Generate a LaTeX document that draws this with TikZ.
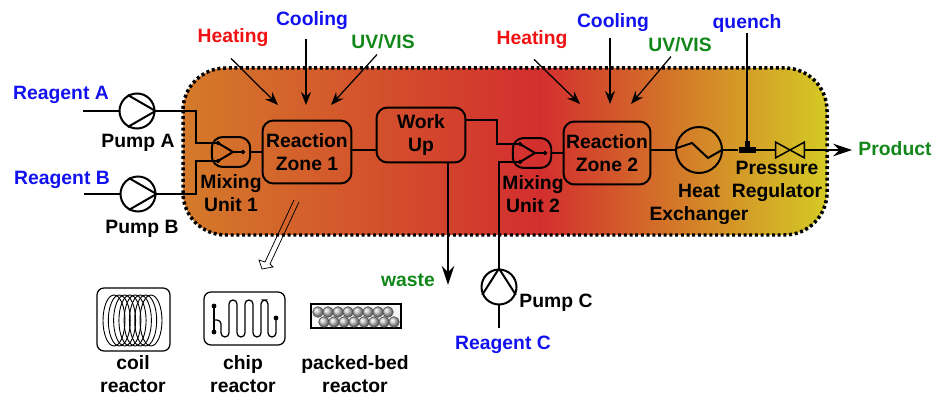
\documentclass[tikz,border=0pt]{standalone}
\usepackage{fontspec}
\setmainfont{Liberation Sans}
\usetikzlibrary{arrows.meta}
\definecolor{fillorange}{RGB}{212,122,42}
\definecolor{fillred}{RGB}{211,46,46}
\definecolor{fillyellow}{RGB}{212,202,36}
\definecolor{labelblue}{RGB}{18,18,240}
\definecolor{labelgreen}{RGB}{18,135,25}
\definecolor{labelred}{RGB}{240,18,18}
\pgfdeclarehorizontalshading{reactorfill}{100bp}{color(0bp)=(fillorange); color(25bp)=(fillorange); color(52.7bp)=(fillred); color(75bp)=(fillyellow); color(100bp)=(fillyellow)}
\def\sphere(#1,#2){\draw[shade, ball color=black!22, draw=black!70, line width=0.012cm] (#1,#2) circle (5.3);}
\tikzset{
	txt/.style={font=\bfseries\fontsize{11}{13}\selectfont, align=center, inner sep=0pt},
	flowline/.style={line width=0.04cm},
	thinarrow/.style={line width=0.025cm, -{Stealth[length=0.26cm,width=0.2cm]}},
	bigarrow/.style={line width=0.04cm, -{Stealth[length=0.38cm,width=0.25cm]}},
	pumpnode/.style={draw, circle, line width=0.04cm, minimum size=0.7cm, inner sep=0pt},
	mixnode/.style={draw, rectangle, rounded corners=0.22cm, line width=0.04cm, minimum width=0.77cm, minimum height=0.6cm, inner sep=0pt},
	zonenode/.style={txt, draw, rectangle, rounded corners=0.22cm, line width=0.04cm, minimum width=1.78cm, minimum height=1.26cm},
	coilring/.style={line width=0.018cm}
}
\begin{document}
\begin{tikzpicture}[x=0.02cm, y=-0.02cm]
	%%%%% START %%%%%
	\useasboundingbox (0, 0) rectangle (934, 395);

	%%%%% heated box
	\draw[shade, shading=reactorfill, rounded corners=0.85cm, line width=0.07cm, dash pattern=on 0.06cm off 0.054cm] (183, 68) rectangle (827, 235);

	%%%%% pumps and inlets
	\node[pumpnode] (pumpA) at (137, 111) {};
	\node[pumpnode] (pumpB) at (138, 194) {};
	\node[pumpnode] (pumpC) at (499, 287) {};
	\coordinate (inletA) at (83, 111);
	\coordinate (inletB) at (84, 194);
	\coordinate (inletC) at (499, 328);
	\draw[flowline] (inletA) -- (pumpA);
	\draw[flowline] (inletB) -- (pumpB);
	\draw[flowline] (inletC) -- (pumpC);
	\draw[flowline] (pumpA.120) -- (pumpA.east) -- (pumpA.-120);
	\draw[flowline] (pumpB.120) -- (pumpB.east) -- (pumpB.-120);
	\draw[flowline] (pumpC.-155) -- (pumpC.north) -- (pumpC.-25);

	%%%%% mixers
	\node[mixnode] (mixA) at (231, 152) {};
	\node[mixnode] (mixB) at (532, 153) {};
	\coordinate (mixAtop) at (218, 143);
	\coordinate (mixAlow) at (218, 161);
	\coordinate (mixAjoin) at (233, 152);
	\coordinate (mixAend) at (243, 152);
	\coordinate (mixBtop) at (520, 144);
	\coordinate (mixBlow) at (520, 162);
	\coordinate (mixBjoin) at (535, 153);
	\coordinate (mixBend) at (545, 153);
	\draw[flowline] (mixAtop) -- (mixAjoin) -- (mixAlow);
	\draw[flowline] (mixAjoin) -- (mixAend);
	\draw[fill=black] (mixAtop) circle (1.8);
	\draw[fill=black] (mixAlow) circle (1.8);
	\draw[fill=black] (mixAend) circle (1.8);
	\draw[flowline] (mixBtop) -- (mixBjoin) -- (mixBlow);
	\draw[flowline] (mixBjoin) -- (mixBend);
	\draw[fill=black] (mixBtop) circle (1.8);
	\draw[fill=black] (mixBlow) circle (1.8);
	\draw[fill=black] (mixBend) circle (1.8);

	%%%%% zones
	\node[zonenode] (zoneA) at (307, 152) {Reaction\\Zone 1};
	\node[zonenode, minimum height=1.1cm] (workUp) at (421, 135) {Work\\Up};
	\node[zonenode, minimum width=1.74cm] (zoneB) at (607, 153) {Reaction\\Zone 2};
	\node[pumpnode, minimum size=0.92cm] (heatX) at (699, 150) {};
	\node[rectangle, fill=black, minimum width=0.34cm, minimum height=0.12cm, inner sep=0pt] (teeJoint) at (747, 150) {};
	\node[rectangle, minimum width=0.56cm, minimum height=0.3cm, inner sep=0pt] (valve) at (790, 150) {};
	\draw[line width=0.03cm] (valve.north west) -- (valve.south east) -- (valve.north east) -- (valve.south west) -- cycle;
	\draw[flowline] (677, 148) -- (692, 143) -- (708, 158) -- (722, 150);

	%%%%% lines between units
	\draw[flowline] (pumpA.east) -- ++(41, 0) |- (mixAtop);
	\draw[flowline] (pumpB.east) -- ++(40, 0) |- (mixAlow);
	\draw[flowline] (mixA.east) -- (zoneA.west);
	\draw[flowline] (zoneA.east |- 0, 150) -- (workUp.west |- 0, 150);
	\draw[flowline] (workUp.east |- 0, 120) -- ++(31, 0) |- (mixBtop);
	\draw[flowline] (pumpC.north) |- (mixBlow);
	\draw[flowline] (mixB.east) -- (zoneB.west);
	\draw[flowline] (zoneB.east |- heatX.west) -- (heatX.west);
	\draw[flowline] (heatX.east) -- (teeJoint.west);
	\draw[flowline] (teeJoint.east) -- (valve.west);
	\coordinate (wasteEnd) at (448, 285);
	\draw[bigarrow] (448, 163) -- (wasteEnd);

	%%%%% labels
	\node[txt, text=labelblue] (reagentA) at (61, 95) {Reagent A};
	\node[txt, text=labelblue] (reagentB) at (62, 180) {Reagent B};
	\node[txt, text=labelblue] (reagentC) at (503, 345) {Reagent C};
	\node[txt] (labelPumpA) at (138, 143) {Pump A};
	\node[txt] (labelPumpB) at (142, 229) {Pump B};
	\node[txt] (labelPumpC) at (556, 303) {Pump C};
	\node[txt] (labelMixA) at (231, 193) {Mixing\\Unit 1};
	\node[txt] (labelMixB) at (533, 194) {Mixing\\Unit 2};
	\node[txt] (labelHeat) at (699, 204) {Heat\\Exchanger};
	\node[txt] (labelValve) at (777, 181) {Pressure\\Regulator};
	\node[txt, text=labelred] (heatA) at (233, 38) {Heating};
	\node[txt, text=labelblue] (coolA) at (312, 21) {Cooling};
	\node[txt, text=labelgreen] (uvA) at (383, 42) {UV/VIS};
	\node[txt, text=labelred] (heatB) at (532, 40) {Heating};
	\node[txt, text=labelblue] (coolB) at (613, 23) {Cooling};
	\node[txt, text=labelgreen] (uvB) at (680, 45) {UV/VIS};
	\node[txt, text=labelblue] (quench) at (747, 24) {quench};
	\node[txt, text=labelgreen] (product) at (895, 149) {Product};
	\node[txt, text=labelgreen] (waste) at (408, 280) {waste};

	%%%%% thermal and light inputs
	\coordinate (hitHeatA) at (278, 105);
	\coordinate (hitCoolA) at (306, 105);
	\coordinate (hitUvA) at (331, 105);
	\coordinate (hitHeatB) at (580, 104);
	\coordinate (hitCoolB) at (610, 104);
	\coordinate (hitUvB) at (631, 104);
	\draw[thinarrow] (heatA.south) ++(-2, 11) -- (hitHeatA);
	\draw[thinarrow] (coolA.south) ++(-6, 9) -- (hitCoolA);
	\draw[thinarrow] (uvA.south) ++(-6, 5) -- (hitUvA);
	\draw[thinarrow] (heatB.south) ++(2, 10) -- (hitHeatB);
	\draw[thinarrow] (coolB.south) ++(-3, 6) -- (hitCoolB);
	\draw[thinarrow] (uvB.south) ++(-9, 4) -- (hitUvB);
	\draw[flowline] (quench.south) -- (teeJoint);
	\draw[line width=0.1cm] (747.5, 141) -- (747.5, 148);
	\draw[bigarrow, shorten >=0.12cm] (valve.east) -- (product.west |- valve.east);

	%%%%% pointer to the reactor types
	\coordinate (pointerLeft) at (294, 200);
	\coordinate (pointerRight) at (299, 202);
	\coordinate (pointerInL) at (265, 262);
	\coordinate (pointerInR) at (270, 264);
	\coordinate (pointerBarbL) at (259, 260);
	\coordinate (pointerBarbR) at (273, 267);
	\coordinate (pointerTip) at (262, 269);
	\draw[line width=0.015cm] (pointerLeft) -- (pointerInL) -- (pointerBarbL) -- (pointerTip) -- (pointerBarbR) -- (pointerInR) -- (pointerRight);

	%%%%% coil reactor
	\draw[line width=0.025cm, rounded corners=0.14cm] (97, 288) rectangle (170, 351);
	\draw[coilring] (114, 320.5) ellipse (11 and 25.5);
	\draw[coilring] (119.3, 320.5) ellipse (11 and 25.5);
	\draw[coilring] (124.6, 320.5) ellipse (11 and 25.5);
	\draw[coilring] (129.9, 320.5) ellipse (11 and 25.5);
	\draw[coilring] (135.1, 320.5) ellipse (11 and 25.5);
	\draw[coilring] (140.4, 320.5) ellipse (11 and 25.5);
	\draw[coilring] (145.7, 320.5) ellipse (11 and 25.5);
	\draw[coilring] (151, 320.5) ellipse (11 and 25.5);
	\node[txt] (labelCoil) at (133, 374) {coil\\reactor};

	%%%%% chip reactor
	\draw[line width=0.025cm, rounded corners=0.14cm] (204, 292) rectangle (285, 345);
	\draw[line width=0.025cm] (214, 306) -- (214, 332);
	\draw[line width=0.025cm, rounded corners=0.08cm] (214, 320) -- (221, 320) -- (221, 337) -- (229, 337) -- (229, 300) -- (237, 300) -- (237, 337) -- (245, 337) -- (245, 300) -- (253, 300) -- (253, 337) -- (261, 337) -- (261, 300) -- (268, 300) -- (268, 337) -- (276, 337) -- (276, 318);
	\draw[fill=black] (214, 306) circle (2);
	\draw[fill=black] (214, 332) circle (2);
	\draw[fill=black] (276, 318) circle (2);
	\node[txt] (labelChip) at (243, 374) {chip\\reactor};

	%%%%% packed bed reactor
	\draw[line width=0.025cm, fill=black!3] (311, 304) rectangle (401, 328);
	\sphere(318, 312)
	\sphere(328, 312)
	\sphere(338, 312)
	\sphere(348, 312)
	\sphere(358, 312)
	\sphere(368, 312)
	\sphere(378, 312)
	\sphere(388, 312)
	\sphere(324, 322)
	\sphere(334, 322)
	\sphere(344, 322)
	\sphere(354, 322)
	\sphere(364, 322)
	\sphere(374, 322)
	\sphere(384, 322)
	\sphere(394, 322)
	\node[txt] (labelPacked) at (355, 374) {packed-bed\\reactor};
	%%%%% END %%%%%
\end{tikzpicture}
\end{document}
